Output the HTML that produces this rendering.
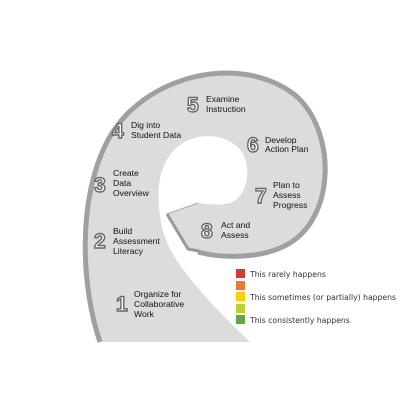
<!DOCTYPE html>
<html><head><meta charset="utf-8"><style>
body{margin:0;background:#fff}
svg{display:block}
.n{font:bold 21px "Liberation Sans",sans-serif;fill:#fff;stroke:#666;stroke-width:1.4px}
.t{font:8.6px "Liberation Sans",sans-serif;fill:#111}
.l{font:7.7px "DejaVu Sans","Liberation Sans",sans-serif;fill:#333}
</style></head><body>
<svg width="400" height="400" viewBox="0 0 400 400">
<path fill="#dcdcdc" d="M100,342 C82,290 76,200 108,140 C143,75 240,52 295,95 C336,130 336,215 290,243 C262,260 220,258 198,252 L188,249 L167,214 L198,203 C208,204 220,206 230,203 C248,196 252,168 242,152 C232,138 214,134 198,137 C175,142 162,160 159,185 C158,200 159,210 160,215 C162,237 172,255 185,272 C205,298 225,318 250,342 Z"/>
<path fill="none" stroke="#a0a0a0" stroke-width="5" d="M100,342 C82,290 76,200 108,140 C143,75 240,52 295,95 C336,130 336,215 290,243 C262,260 220,258 198,252"/>
<path fill="none" stroke="#999" stroke-width="3" d="M167,214 L188,249 L199,251"/>
<path fill="none" stroke="#aaa" stroke-width="1" d="M167,214 L198,203"/>
<g><text class="n" x="187" y="112">5</text><text class="t" x="206" y="102">Examine</text><text class="t" x="206" y="112">Instruction</text></g>
<g><text class="n" x="112" y="138">4</text><text class="t" x="131" y="128">Dig into</text><text class="t" x="131" y="138">Student Data</text></g>
<g><text class="n" x="247" y="152">6</text><text class="t" x="265" y="143">Develop</text><text class="t" x="265" y="152">Action Plan</text></g>
<g><text class="n" x="94" y="192">3</text><text class="t" x="113" y="176">Create</text><text class="t" x="113" y="186">Data</text><text class="t" x="113" y="196">Overview</text></g>
<g><text class="n" x="255" y="203">7</text><text class="t" x="273" y="188">Plan to</text><text class="t" x="273" y="198">Assess</text><text class="t" x="273" y="208">Progress</text></g>
<g><text class="n" x="201" y="238">8</text><text class="t" x="221" y="228">Act and</text><text class="t" x="221" y="238">Assess</text></g>
<g><text class="n" x="94" y="248">2</text><text class="t" x="113" y="234">Build</text><text class="t" x="113" y="244">Assessment</text><text class="t" x="113" y="254">Literacy</text></g>
<g><text class="n" x="116" y="311">1</text><text class="t" x="134" y="297">Organize for</text><text class="t" x="134" y="307">Collaborative</text><text class="t" x="134" y="317">Work</text></g>
<g>
<rect x="236" y="269" width="9" height="9" fill="#d9392b"/><text class="l" x="250" y="277">This rarely happens</text>
<rect x="236" y="281" width="9" height="9" fill="#ec7a29"/>
<rect x="236" y="292" width="9" height="9" fill="#fcd000"/><text class="l" x="250" y="300">This sometimes (or partially) happens</text>
<rect x="236" y="304" width="9" height="9" fill="#bad42e"/>
<rect x="236" y="315" width="9" height="9" fill="#5fa843"/><text class="l" x="250" y="323">This consistently happens</text>
</g>
</svg>
</body></html>
